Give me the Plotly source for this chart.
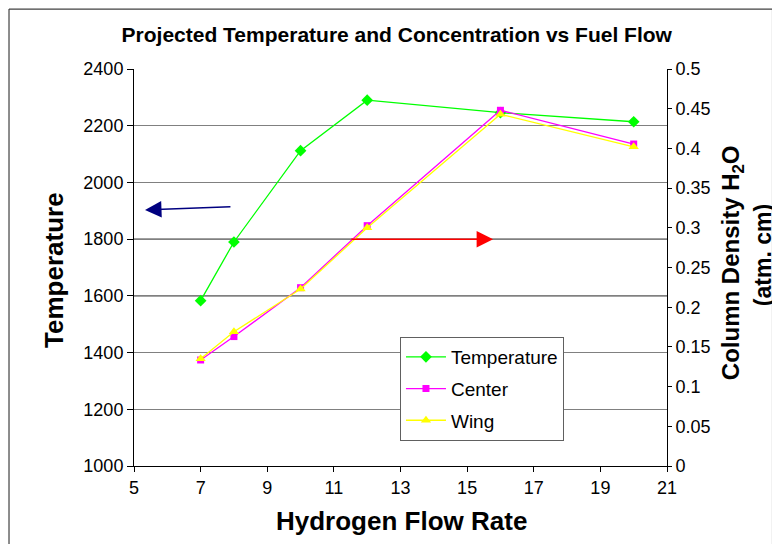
import plotly.graph_objects as go

flow = [7, 8, 10, 12, 16, 20]
temperature = [1583, 1790, 2112, 2290, 2246, 2214]
center = [0.1335, 0.163, 0.2246, 0.3027, 0.448, 0.4055]
wing = [0.135, 0.169, 0.223, 0.300, 0.443, 0.402]

FONT = "Liberation Sans, Arial, sans-serif"

fig = go.Figure()
fig.add_trace(go.Scatter(x=flow, y=temperature, name="Temperature", mode="lines+markers",
                         line=dict(color="#00FF00", width=1.3),
                         marker=dict(symbol="diamond", size=9, color="#00FF00"),
                         yaxis="y", legendgroup="a"))
fig.add_trace(go.Scatter(x=flow, y=center, name="Center", mode="lines+markers",
                         line=dict(color="#FF00FF", width=1.3),
                         marker=dict(symbol="square", size=7, color="#FF00FF"),
                         yaxis="y2", legendgroup="b"))
fig.add_trace(go.Scatter(x=flow, y=wing, name="Wing", mode="lines+markers",
                         line=dict(color="#FFFF00", width=1.3),
                         marker=dict(symbol="triangle-up", size=9, color="#FFFF00"),
                         yaxis="y2", legendgroup="c"))

shapes = []
# darker gridlines as in the reference
for yv in [1600, 1800]:
    shapes.append(dict(type="line", xref="paper", yref="y", x0=0, x1=1, y0=yv, y1=yv,
                       line=dict(color="#000000", width=1), layer="below"))
# outer chart frame (left, top, right edges)
FL, FR, FT, FB = -0.2345, 1.198, 1.151, -0.25
frame = dict(color="#404040", width=1.2)
shapes.append(dict(type="line", xref="paper", yref="paper", x0=FL, x1=FL, y0=FB, y1=FT, line=frame))
shapes.append(dict(type="line", xref="paper", yref="paper", x0=FL, x1=FR, y0=FT, y1=FT, line=frame))
shapes.append(dict(type="line", xref="paper", yref="paper", x0=FR, x1=FR, y0=FB, y1=FT, line=frame))

annotations = [
    dict(x=5.33, y=1903, ax=7.94, ay=1914, xref="x", yref="y", axref="x", ayref="y",
         showarrow=True, arrowhead=2, arrowsize=2.2, arrowwidth=1.5, arrowcolor="#000080", text=""),
    dict(x=15.78, y=1800, ax=11.48, ay=1800, xref="x", yref="y", axref="x", ayref="y",
         showarrow=True, arrowhead=2, arrowsize=2.2, arrowwidth=1.5, arrowcolor="#FF0000", text=""),
    # axis titles
    dict(text="<b>Temperature</b>", xref="paper", yref="paper", x=-0.150, y=0.494,
         textangle=-90, showarrow=False, xanchor="center", yanchor="middle",
         font=dict(size=26, family=FONT, color="black")),
    dict(text="<b>Hydrogen Flow Rate</b>", xref="paper", yref="paper", x=0.502, y=-0.1385,
         showarrow=False, xanchor="center", yanchor="middle",
         font=dict(size=26, family=FONT, color="black")),
    dict(text="<b>Column Density H<sub>2</sub>O</b>", xref="paper", yref="paper", x=1.122, y=0.511,
         textangle=-90, showarrow=False, xanchor="center", yanchor="middle",
         font=dict(size=24, family=FONT, color="black")),
    dict(text="<b>(atm. cm)</b>", xref="paper", yref="paper", x=1.180, y=0.531,
         textangle=-90, showarrow=False, xanchor="center", yanchor="middle",
         font=dict(size=23, family=FONT, color="black")),
]

fig.update_layout(
    width=772, height=536,
    margin=dict(l=126, r=113, t=61, b=78),
    paper_bgcolor="white", plot_bgcolor="white",
    font=dict(family=FONT, size=18, color="black"),
    title=dict(text="<b>Projected Temperature and Concentration vs Fuel Flow</b>",
               x=0.493, xanchor="center", xref="paper", y=0.9496, yanchor="middle",
               font=dict(size=21, family=FONT)),
    xaxis=dict(range=[5, 21], dtick=2, tick0=5, showgrid=False, showline=True,
               linecolor="black", linewidth=1, ticks="outside", ticklen=5, tickcolor="black",
               zeroline=False, mirror=False, tickfont=dict(size=18)),
    yaxis=dict(range=[1000, 2400], dtick=200, showgrid=True, gridcolor="#808080", gridwidth=1,
               showline=True, linecolor="black", linewidth=1, ticks="outside", ticklen=6,
               tickcolor="black", zeroline=False, tickfont=dict(size=18)),
    yaxis2=dict(range=[0, 0.5], dtick=0.05, overlaying="y", side="right", showgrid=False,
                showline=True, linecolor="black", linewidth=1, ticks="outside", ticklen=4,
                tickcolor="black", zeroline=False, tickformat="~g", tickfont=dict(size=18)),
    legend=dict(x=0.499, y=0.325, xanchor="left", yanchor="top",
                bgcolor="white", bordercolor="#606060", borderwidth=1, itemwidth=40,
                font=dict(size=19, family=FONT), traceorder="grouped", tracegroupgap=4),
    showlegend=True,
    shapes=shapes,
    annotations=annotations,
)

fig.write_html("out.html")
